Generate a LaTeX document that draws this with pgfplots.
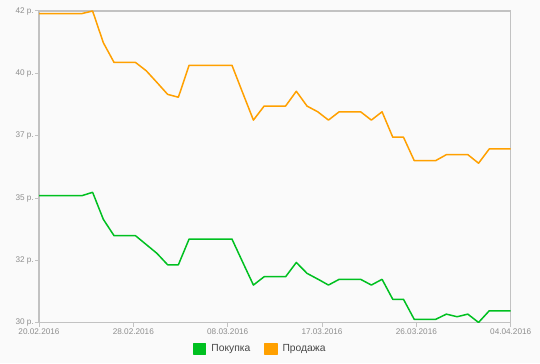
\documentclass[border=0pt]{standalone}
\usepackage{fontspec}
\setmainfont{Liberation Sans}
\usepackage{pgfplots}
\usepackage{pgfplotstable}
\pgfplotsset{compat=1.18}
\definecolor{bg}{HTML}{FAFAFA}
\definecolor{axgray}{HTML}{C2C2C2}
\definecolor{txtgray}{HTML}{8E8E8E}
\definecolor{cbuy}{HTML}{00C020}
\definecolor{csell}{HTML}{FFA000}
\pgfplotstableread{
day buy sell
0 34.89 41.90
1 34.89 41.90
2 34.89 41.90
3 34.89 41.90
4 34.89 41.90
5 35.02 42.00
6 33.98 40.78
7 33.35 40.02
8 33.35 40.02
9 33.35 40.02
10 33.01 39.70
11 32.67 39.25
12 32.23 38.79
13 32.23 38.68
14 33.22 39.91
15 33.22 39.91
16 33.22 39.91
17 33.22 39.91
18 33.22 39.91
19 32.33 38.85
20 31.45 37.80
21 31.77 38.34
22 31.77 38.34
23 31.77 38.34
24 32.32 38.91
25 31.90 38.34
26 31.68 38.12
27 31.45 37.80
28 31.67 38.12
29 31.67 38.12
30 31.67 38.12
31 31.45 37.80
32 31.67 38.12
33 30.90 37.14
34 30.90 37.14
35 30.13 36.24
36 30.13 36.24
37 30.13 36.24
38 30.33 36.47
39 30.23 36.47
40 30.33 36.47
41 30.01 36.14
42 30.46 36.69
43 30.46 36.69
44 30.46 36.69
}\rates
\begin{document}
\begin{tikzpicture}[x=1bp,y=1bp]
\fill[bg] (0,0) rectangle (540,363);
\begin{axis}[
  at={(39bp,40.3bp)}, anchor=south west,
  width=471.7bp, height=311.7bp, scale only axis,
  xmin=0, xmax=44, ymin=30, ymax=42,
  axis line style={axgray, line width=1.3bp},
  tick style={axgray, line width=1bp},
  major tick length=4bp,
  tick align=outside,
  xtick pos=left, ytick pos=left,
  xtick={0,8.8,17.6,26.4,35.2,44},
  xticklabels={20.02.2016,28.02.2016,08.03.2016,17.03.2016,26.03.2016,04.04.2016},
  ytick={30,32.4,34.8,37.2,39.6,42},
  yticklabels={30 р.,32 р.,35 р.,37 р.,40 р.,42 р.},
  ticklabel style={font=\fontsize{8.2bp}{10bp}\selectfont, text=txtgray},
  yticklabel style={inner sep=1bp},
  xticklabel style={inner sep=1.5bp},
  legend columns=2,
  legend style={at={(axis description cs:0.3265,-0.0844)}, anchor=west, draw=none, fill=none,
    font=\fontsize{10.3bp}{12bp}\selectfont, text=black!72,
    /tikz/every odd column/.append style={column sep=3bp},
    /tikz/every even column/.append style={column sep=12bp},
    inner sep=0pt},
  legend cell align=left,
  legend image code/.code={\fill[#1] (0bp,-5.3bp) rectangle (11.7bp,5.3bp);},
]
\addplot[cbuy, line width=1.5bp, line join=round] table[x=day, y=buy] {\rates};
\addlegendentry{Покупка}
\addplot[csell, line width=1.5bp, line join=round] table[x=day, y=sell] {\rates};
\addlegendentry{Продажа}
\end{axis}
\end{tikzpicture}
\end{document}
